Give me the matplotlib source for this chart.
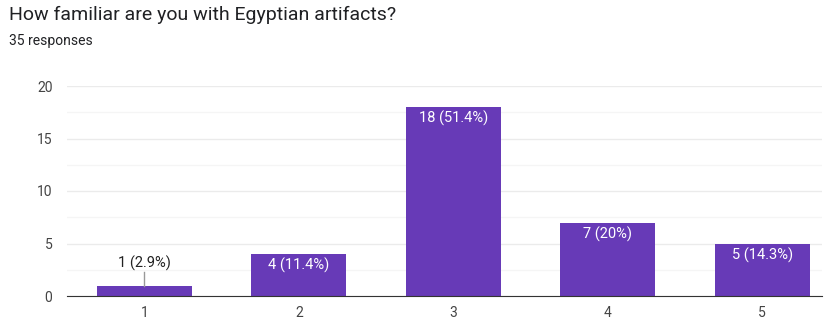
import matplotlib.pyplot as plt
import numpy as np

categories = ['1', '2', '3', '4', '5']
counts = [1, 4, 18, 7, 5]
labels = ['1 (2.9%)', '4 (11.4%)', '18 (51.4%)', '7 (20%)', '5 (14.3%)']

plt.rcParams['font.family'] = ['Roboto', 'DejaVu Sans']

fig = plt.figure(figsize=(8.3, 3.22), dpi=100)
ax = fig.add_axes([67/830, 1-296/322, (822-67)/830, 210/322])

x = np.arange(1, len(counts) + 1)
ax.bar(x, counts, width=0.615, color='#673ab7', zorder=3)

ax.set_xlim(0.5, 0.5 + (822-67)/154.5)
ax.set_ylim(0, 20)
ax.set_yticks([0, 5, 10, 15, 20])
ax.set_yticks([2.5, 7.5, 12.5, 17.5], minor=True)
ax.set_xticks(x)
ax.set_xticklabels(categories)
ax.grid(axis='y', which='major', color='#ebebeb', lw=1, zorder=0)
ax.grid(axis='y', which='minor', color='#f5f5f5', lw=1, zorder=0)
ax.tick_params(axis='both', which='both', length=0, labelsize=10, colors='#444444')
ax.tick_params(axis='y', pad=10.5)
ax.tick_params(axis='x', pad=7)
for s in ['top', 'right', 'left']:
    ax.spines[s].set_visible(False)
ax.spines['bottom'].set_color('#333333')
ax.spines['bottom'].set_zorder(4)

for xi, c, lab in zip(x, counts, labels):
    if c >= 3:
        ax.text(xi, c - 0.35, lab, ha='center', va='top', color='white', fontsize=10.5, zorder=5)
    else:
        ax.plot([xi, xi], [c, c + 1.3], color='#999999', lw=1, zorder=4)
        ax.text(xi, c + 1.4, lab, ha='center', va='bottom', color='#222222', fontsize=10.5, zorder=5)

fig.text(9/830, 1-20/322, 'How familiar are you with Egyptian artifacts?', fontsize=14, color='#202124', va='baseline')
fig.text(9/830, 1-45/322, '35 responses', fontsize=10, color='#202124', va='baseline')

fig.savefig('out.png', dpi=100)
